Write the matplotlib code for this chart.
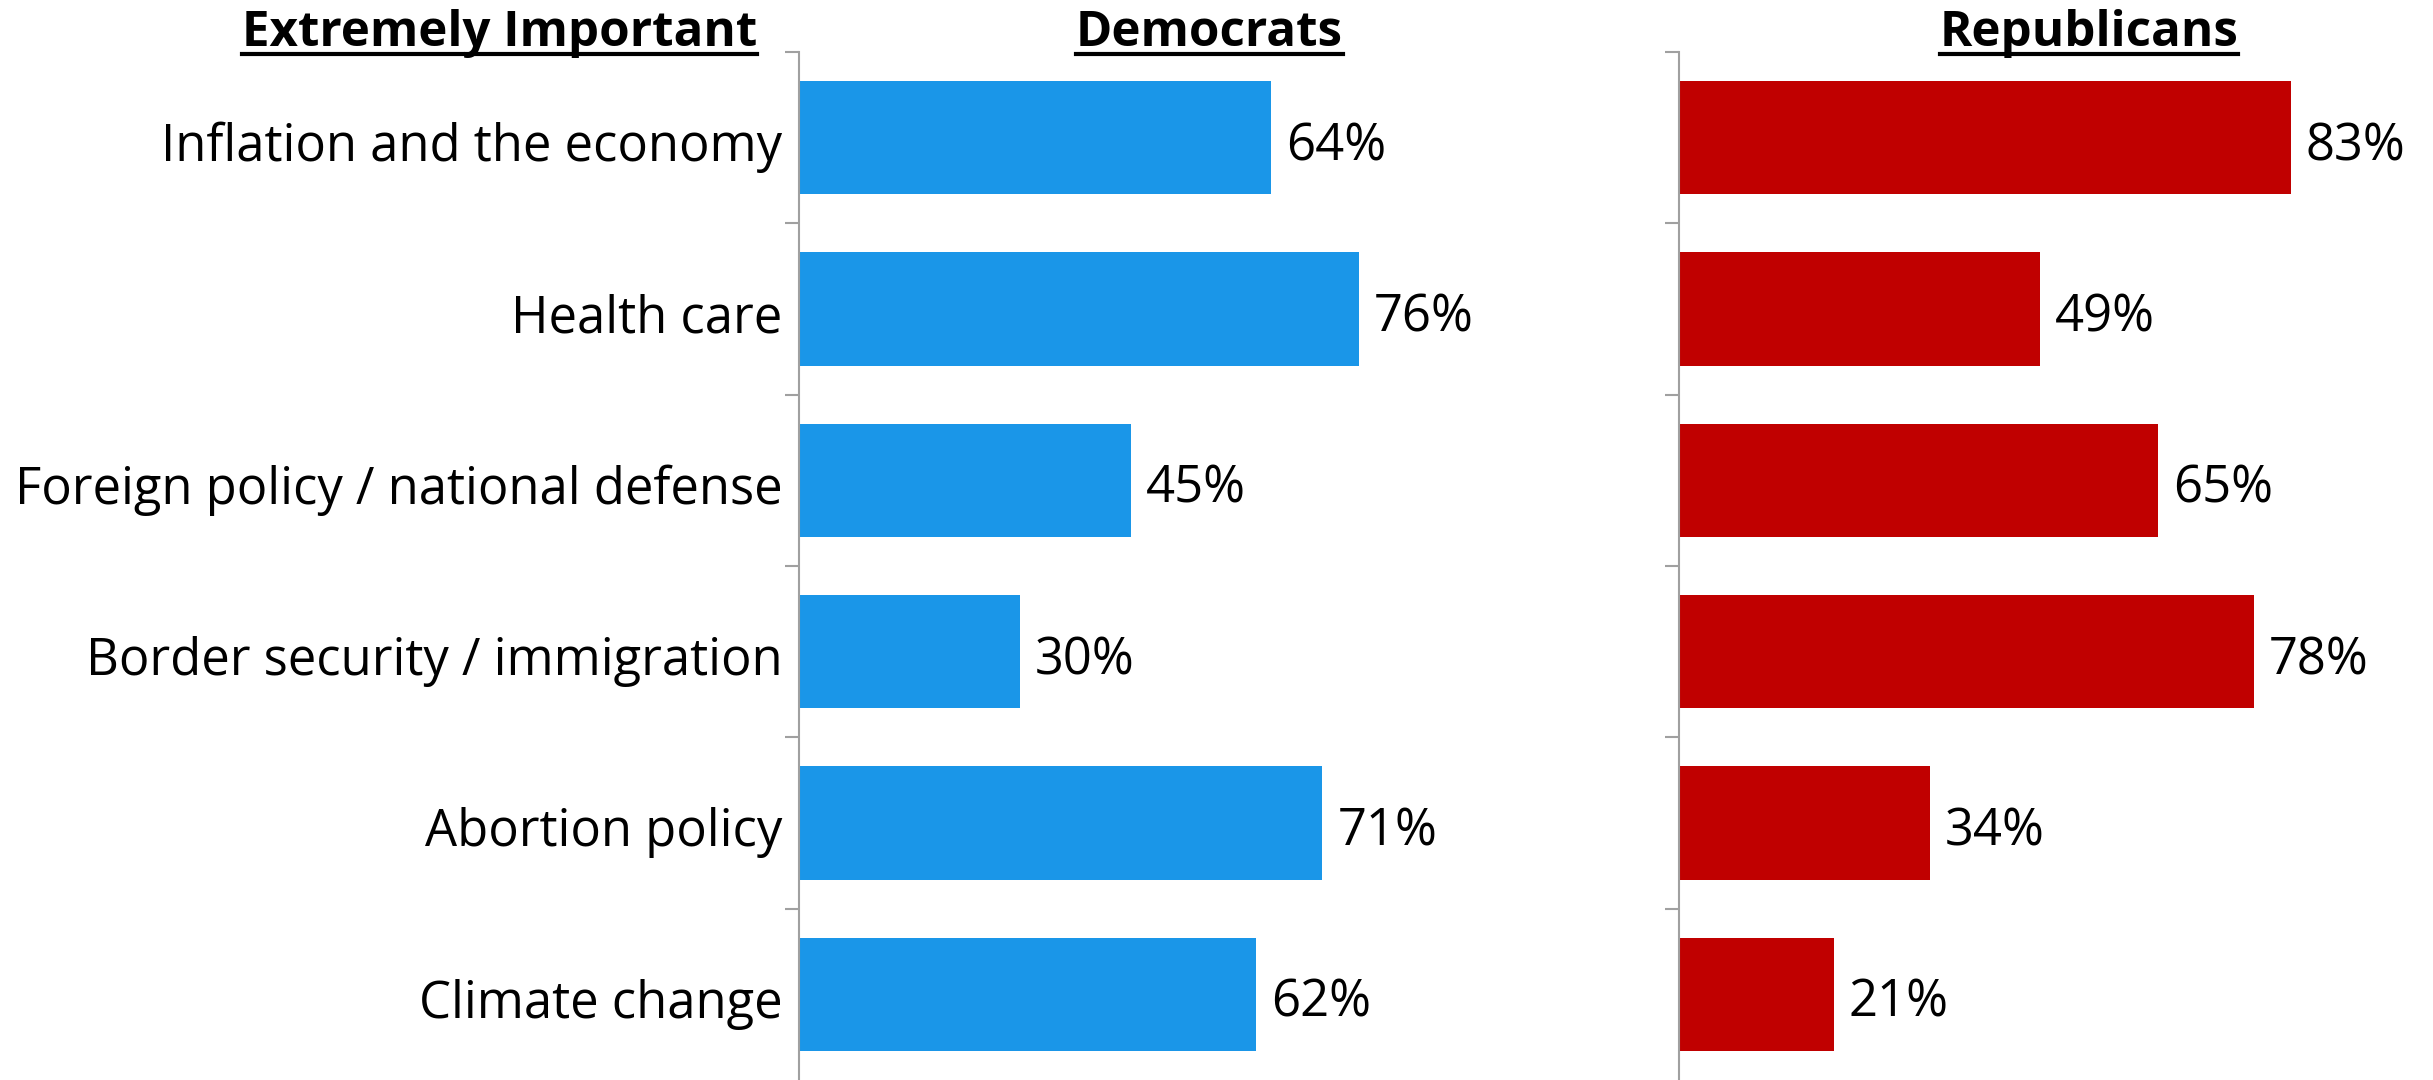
import matplotlib.pyplot as plt
import matplotlib.transforms as mtrans
from matplotlib.lines import Line2D

plt.rcParams['font.family'] = ['Open Sans', 'DejaVu Sans']

categories = ["Inflation and the economy", "Health care",
              "Foreign policy / national defense", "Border security / immigration",
              "Abortion policy", "Climate change"]
democrats = [64, 76, 45, 30, 71, 62]
republicans = [83, 49, 65, 78, 34, 21]

W, H = 2433, 1080
fig = plt.figure(figsize=(W / 100, H / 100), dpi=100)

ax_top = 1 - 52 / H
ax_w = 737 / W
ax_d = fig.add_axes([799 / W, 0, ax_w, ax_top])
ax_r = fig.add_axes([1679 / W, 0, ax_w, ax_top])

label_fs = 36.5
pos = list(range(len(categories)))

for ax, vals, col in [(ax_d, democrats, '#1A96E8'), (ax_r, republicans, '#C00000')]:
    ax.barh(pos, vals, height=0.66, color=col)
    ax.set_xlim(0, 100)
    ax.set_ylim(5.5, -0.5)
    for s in ['top', 'right', 'bottom']:
        ax.spines[s].set_visible(False)
    ax.spines['left'].set_color('#A0A0A0')
    ax.spines['left'].set_linewidth(1.5)
    ax.set_xticks([])
    ax.set_yticks(pos)
    ax.set_yticks([p - 0.5 for p in pos], minor=True)
    ax.tick_params(axis='y', which='major', length=0)
    ax.tick_params(axis='y', which='minor', length=10, width=1.5, color='#A0A0A0')
    for p, v in zip(pos, vals):
        ax.annotate(f"{v}%", (v, p), xytext=(15, -9), textcoords='offset pixels',
                    va='center', ha='left', fontsize=label_fs)

ax_d.set_yticklabels(categories, fontsize=label_fs, va='center_baseline')
ax_d.tick_params(axis='y', which='major', pad=12)
shift = mtrans.ScaledTranslation(0, -4 / 100, fig.dpi_scale_trans)
for lab in ax_d.get_yticklabels():
    lab.set_transform(lab.get_transform() + shift)
ax_r.set_yticklabels([])

title_fs = 35.5
ty = 1 - 34 / H
titles = [
    fig.text(757 / W, ty, "Extremely Important", ha='right', va='center',
             fontsize=title_fs, fontweight='bold'),
    fig.text(1209 / W, ty, "Democrats", ha='center', va='center',
             fontsize=title_fs, fontweight='bold'),
    fig.text(2089 / W, ty, "Republicans", ha='center', va='center',
             fontsize=title_fs, fontweight='bold'),
]

fig.canvas.draw()
r = fig.canvas.get_renderer()
for t in titles:
    bb = t.get_window_extent(r)
    y = 1 - 54 / H
    fig.add_artist(Line2D([bb.x0 / W, bb.x1 / W], [y, y], color='black',
                          linewidth=3, transform=fig.transFigure))

fig.savefig("out.png", dpi=100)
